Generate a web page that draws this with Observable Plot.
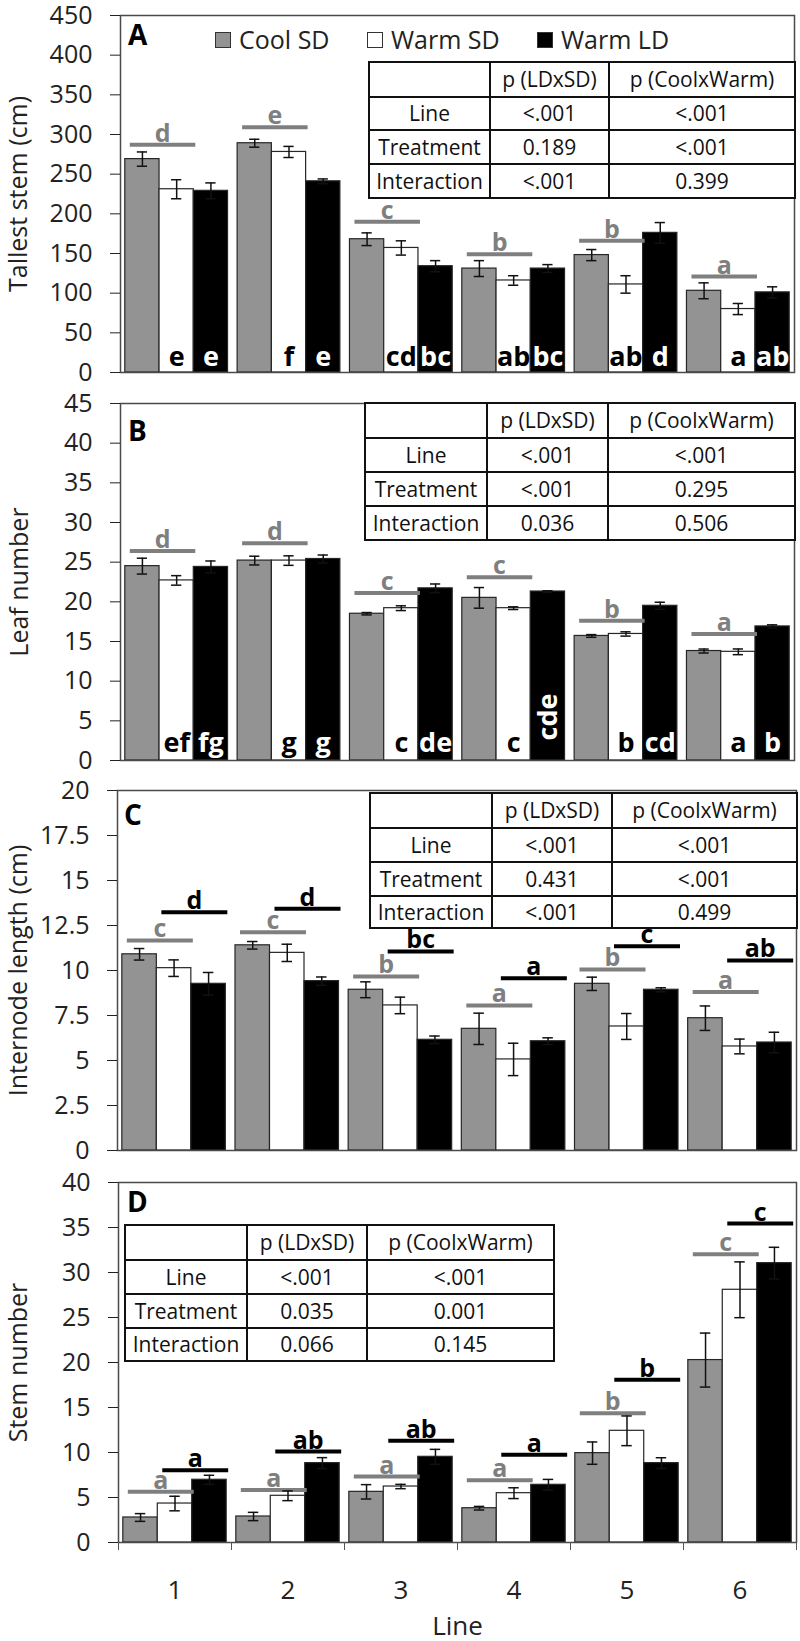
<!DOCTYPE html>
<html>
<head>
<meta charset="utf-8">
<script src="https://cdn.jsdelivr.net/npm/d3@7"></script>
<script src="https://cdn.jsdelivr.net/npm/@observablehq/plot@0.6"></script>
<style>
  html, body { margin: 0; padding: 0; background: #fff; }
  body { width: 800px; font-family: "Open Sans", sans-serif; color: #1a1a1a; }
  .panel { position: relative; width: 800px; }
  .panel svg { display: block; overflow: visible; }
  .plabel { position: absolute; font: bold 28px/1 "Open Sans", sans-serif; color: #000; }
  table.pt { position: absolute; border-collapse: collapse; table-layout: fixed; background: #fff;
             font: 21px/1 "Open Sans", sans-serif; color: #111; }
  table.pt td { border: 2px solid #111; text-align: center; vertical-align: middle; padding: 0;
                white-space: nowrap; overflow: hidden; }
  .litem { position: absolute; display: flex; align-items: center; font: 25px/1 "Open Sans", sans-serif; color: #222; }
  .sw { width: 14px; height: 14px; border: 1.5px solid #333; margin-right: 8px; }
</style>
</head>
<body>
<div id="fig"></div>
<script>
// ---------- shared categories ----------
const lines = ["1", "2", "3", "4", "5", "6"];
const treatments = ["Cool SD", "Warm SD", "Warm LD"];
const treatmentColors = ["#939393", "#ffffff", "#000000"];
const tableHeader = ["", "p (LDxSD)", "p (CoolxWarm)"];

// ---------- A: Tallest stem ----------
const stemTicks = [0, 50, 100, 150, 200, 250, 300, 350, 400, 450];
const stemCool = [269, 289, 168, 131, 148, 103];
const stemCoolErr = [9, 5, 8, 10, 7, 10];
const stemWarmSD = [231, 278, 157, 116, 111, 80];
const stemWarmSDErr = [12, 7, 9, 6, 11, 7];
const stemWarmLD = [229, 241, 134, 131, 176, 101];
const stemWarmLDErr = [10, 3, 7, 5, 13, 7];
const stemGrayLetters = ["d", "e", "c", "b", "b", "a"];
const stemGrayLevels = [287, 309, 190, 149, 166, 121];
const stemWhiteLetters = ["e", "f", "cd", "ab", "ab", "a"];
const stemBlackLetters = ["e", "e", "bc", "bc", "d", "ab"];
const stemTable = [["Line", "<.001", "<.001"], ["Treatment", "0.189", "<.001"], ["Interaction", "<.001", "0.399"]];

// ---------- B: Leaf number ----------
const leafTicks = [0, 5, 10, 15, 20, 25, 30, 35, 40, 45];
const leafCool = [24.5, 25.2, 18.5, 20.5, 15.7, 13.8];
const leafCoolErr = [1.0, 0.55, 0.15, 1.3, 0.17, 0.25];
const leafWarmSD = [22.7, 25.2, 19.2, 19.2, 15.95, 13.7];
const leafWarmSDErr = [0.6, 0.6, 0.3, 0.17, 0.27, 0.36];
const leafWarmLD = [24.4, 25.4, 21.7, 21.3, 19.5, 16.9];
const leafWarmLDErr = [0.75, 0.5, 0.55, 0.1, 0.45, 0.2];
const leafGrayLetters = ["d", "d", "c", "c", "b", "a"];
const leafGrayLevels = [26.4, 27.4, 21.1, 23.1, 17.6, 15.95];
const leafWhiteLetters = ["ef", "g", "c", "c", "b", "a"];
const leafBlackLetters = ["fg", "g", "de", "cde", "cd", "b"];
const leafTable = [["Line", "<.001", "<.001"], ["Treatment", "<.001", "0.295"], ["Interaction", "0.036", "0.506"]];

// ---------- C: Internode length ----------
const interTicks = [0, 2.5, 5, 7.5, 10, 12.5, 15, 17.5, 20];
const interCool = [10.9, 11.4, 8.93, 6.76, 9.26, 7.35];
const interCoolErr = [0.32, 0.21, 0.44, 0.87, 0.37, 0.68];
const interWarmSD = [10.13, 10.98, 8.06, 5.06, 6.89, 5.78];
const interWarmSDErr = [0.46, 0.48, 0.46, 0.9, 0.72, 0.41];
const interWarmLD = [9.26, 9.41, 6.15, 6.07, 8.93, 6.0];
const interWarmLDErr = [0.63, 0.23, 0.21, 0.19, 0.11, 0.57];
const interGrayLetters = ["c", "c", "b", "a", "b", "a"];
const interGrayLevels = [11.67, 12.13, 9.67, 8.06, 10.06, 8.8];
const interBlackLetters = ["d", "d", "bc", "a", "c", "ab"];
const interBlackLevels = [13.24, 13.43, 11.06, 9.57, 11.35, 10.56];
const interTable = [["Line", "<.001", "<.001"], ["Treatment", "0.431", "<.001"], ["Interaction", "<.001", "0.499"]];

// ---------- D: Stem number ----------
const stemNTicks = [0, 5, 10, 15, 20, 25, 30, 35, 40];
const stemNCool = [2.78, 2.89, 5.63, 3.81, 9.93, 20.27];
const stemNCoolErr = [0.43, 0.46, 0.8, 0.2, 1.24, 3.0];
const stemNWarmSD = [4.33, 5.19, 6.22, 5.48, 12.41, 28.08];
const stemNWarmSDErr = [0.81, 0.54, 0.24, 0.6, 1.65, 3.1];
const stemNWarmLD = [6.97, 8.82, 9.52, 6.41, 8.82, 31.04];
const stemNWarmLDErr = [0.5, 0.61, 0.83, 0.6, 0.6, 1.76];
const stemNGrayLetters = ["a", "a", "a", "a", "b", "c"];
const stemNGrayLevels = [5.63, 5.82, 7.33, 6.93, 14.37, 32.04];
const stemNBlackLetters = ["a", "ab", "ab", "a", "b", "c"];
const stemNBlackLevels = [8.04, 10.11, 11.3, 9.74, 18.08, 35.44];
const stemNTable = [["Line", "<.001", "<.001"], ["Treatment", "0.035", "0.001"], ["Interaction", "0.066", "0.145"]];

const GRAY = "#7f7f7f";
const PAD_OUTER = 0.14;
const FONT = '"Open Sans", sans-serif';

function makePlot(cfg) {
  const rows = [];
  lines.forEach((ln, i) => treatments.forEach((t, k) =>
    rows.push({line: ln, treatment: t, value: cfg.means[k][i], err: cfg.errs[k][i]})));
  const plotW = 800 - cfg.mL - cfg.mR;
  const bandW = plotW / lines.length / (treatments.length + 2 * PAD_OUTER);
  const marks = [
    Plot.barY(rows, {fx: "line", x: "treatment", y: "value", fill: "treatment", stroke: "#262626", strokeWidth: 1.2})
  ];
  if (cfg.bottom) {
    const br = [];
    lines.forEach((ln, i) => {
      br.push({line: ln, treatment: "Warm SD", text: cfg.bottom.white[i]});
      br.push({line: ln, treatment: "Warm LD", text: cfg.bottom.black[i]});
    });
    for (const [t, fill] of [["Warm SD", "#000"], ["Warm LD", "#fff"]]) {
      marks.push(Plot.text(br.filter(d => d.treatment === t && d.text.length < 3), {
        fx: "line", x: "treatment", y: () => 0, text: "text", fill,
        lineAnchor: "bottom", dy: cfg.bottom.dy, fontSize: 27, fontWeight: "bold"
      }));
      marks.push(Plot.text(br.filter(d => d.treatment === t && d.text.length >= 3), {
        fx: "line", x: "treatment", y: () => 0, text: "text", fill,
        rotate: -90, textAnchor: "start", lineAnchor: "middle", dy: -20, fontSize: 27, fontWeight: "bold"
      }));
    }
  }
  for (const g of cfg.groups) {
    const gr = lines.map((ln, i) => ({line: ln, level: g.levels[i], letter: g.letters[i]}));
    marks.push(Plot.ruleY(gr, {fx: "line", y: "level", x1: () => g.from, x2: () => g.to,
      stroke: g.color, strokeWidth: 4, insetLeft: 5, insetRight: -2}));
    marks.push(Plot.text(gr, {fx: "line", x: () => g.to, y: "level", text: "letter",
      dx: -bandW / 2 + 3, dy: -3, lineAnchor: "bottom", fill: g.color, fontSize: 25, fontWeight: "bold"}));
  }
  marks.push(
    Plot.ruleX(rows, {fx: "line", x: "treatment", y1: d => d.value - d.err, y2: d => d.value + d.err, stroke: "#111", strokeWidth: 1.5}),
    Plot.tickY(rows, {fx: "line", x: "treatment", y: d => d.value + d.err, stroke: "#111", strokeWidth: 1.5, insetLeft: 12, insetRight: 12}),
    Plot.tickY(rows, {fx: "line", x: "treatment", y: d => d.value - d.err, stroke: "#111", strokeWidth: 1.5, insetLeft: 12, insetRight: 12}),
    Plot.frame({facet: "super", stroke: "#4a4a4a", strokeWidth: 1.5}),
    Plot.axisY({ticks: cfg.ticks, tickFormat: d => String(d), tickSize: 10, tickPadding: 18, fontSize: 25,
      color: "#222", label: cfg.title, labelAnchor: "center", labelOffset: cfg.labelOffset, labelArrow: "none"})
  );
  if (cfg.xAxis) {
    const edge = bandW * (0.5 + PAD_OUTER);
    marks.push(
      Plot.axisFx({anchor: "bottom", tickSize: 0, tickPadding: 38, fontSize: 26, color: "#222",
        label: "Line", labelAnchor: "center", labelOffset: 92, labelArrow: "none"}),
      Plot.axisX({ticks: ["Cool SD"], tickSize: 8, tickFormat: () => "", dx: -edge, label: null, color: "#555"}),
      Plot.axisX({ticks: ["Warm LD"], tickSize: 8, tickFormat: () => "", dx: edge, label: null, color: "#555"})
    );
  }
  return Plot.plot({
    width: 800, height: cfg.height,
    marginTop: cfg.mT, marginBottom: cfg.mB, marginLeft: cfg.mL, marginRight: cfg.mR,
    style: {fontFamily: FONT, background: "white", overflow: "visible"},
    fx: {domain: lines, padding: 0, round: false, label: null, ...(cfg.xAxis ? {} : {axis: null})},
    x: {domain: treatments, paddingInner: 0, paddingOuter: PAD_OUTER, round: false, label: null, ...(cfg.xAxis ? {} : {axis: null})},
    y: {domain: [0, cfg.max]},
    color: {domain: treatments, range: treatmentColors},
    marks
  });
}

function addTable(panel, rows, left, top, colW, rowH) {
  const t = document.createElement("table");
  t.className = "pt";
  t.style.left = left + "px";
  t.style.top = top + "px";
  t.style.width = colW.reduce((a, b) => a + b, 0) + "px";
  const cg = document.createElement("colgroup");
  colW.forEach(w => { const c = document.createElement("col"); c.style.width = w + "px"; cg.appendChild(c); });
  t.appendChild(cg);
  [tableHeader, ...rows].forEach((r, ri) => {
    const tr = t.insertRow();
    tr.style.height = rowH[ri] + "px";
    r.forEach(c => { const td = tr.insertCell(); td.textContent = c; });
  });
  panel.appendChild(t);
}

function addLetter(panel, txt, left, top) {
  const d = document.createElement("div");
  d.className = "plabel";
  d.textContent = txt;
  d.style.left = left + "px";
  d.style.top = top + "px";
  panel.appendChild(d);
}

const fig = document.getElementById("fig");
function newPanel(h) {
  const p = document.createElement("div");
  p.className = "panel";
  p.style.height = h + "px";
  fig.appendChild(p);
  return p;
}

// Panel A
{
  const p = newPanel(387);
  p.appendChild(makePlot({
    height: 387, mT: 15, mB: 15, mL: 120, mR: 6, max: 450, ticks: stemTicks,
    title: "Tallest stem (cm)", labelOffset: 111,
    means: [stemCool, stemWarmSD, stemWarmLD], errs: [stemCoolErr, stemWarmSDErr, stemWarmLDErr],
    groups: [{from: "Cool SD", to: "Warm SD", color: GRAY, levels: stemGrayLevels, letters: stemGrayLetters}],
    bottom: {white: stemWhiteLetters, black: stemBlackLetters, dy: -7}
  }));
  addLetter(p, "A", 128, 20);
  const legendLeft = [215, 367, 537];
  treatments.forEach((t, k) => {
    const it = document.createElement("div");
    it.className = "litem";
    it.style.left = legendLeft[k] + "px";
    it.style.top = "27px";
    const sw = document.createElement("div");
    sw.className = "sw";
    sw.style.background = treatmentColors[k];
    it.appendChild(sw);
    it.appendChild(document.createTextNode(t));
    p.appendChild(it);
  });
  addTable(p, stemTable, 368, 61, [121, 119, 186], [35, 33, 34, 34]);
}
// Panel B
{
  const p = newPanel(388);
  p.appendChild(makePlot({
    height: 388, mT: 16, mB: 15, mL: 120, mR: 6, max: 45, ticks: leafTicks,
    title: "Leaf number", labelOffset: 110,
    means: [leafCool, leafWarmSD, leafWarmLD], errs: [leafCoolErr, leafWarmSDErr, leafWarmLDErr],
    groups: [{from: "Cool SD", to: "Warm SD", color: GRAY, levels: leafGrayLevels, letters: leafGrayLetters}],
    bottom: {white: leafWhiteLetters, black: leafBlackLetters, dy: -9}
  }));
  addLetter(p, "B", 128, 29);
  addTable(p, leafTable, 364, 15, [122, 121, 187], [35, 34, 34, 34]);
}
// Panel C
{
  const p = newPanel(390);
  p.appendChild(makePlot({
    height: 390, mT: 15, mB: 15, mL: 117, mR: 4, max: 20, ticks: interTicks,
    title: "Internode length (cm)", labelOffset: 108,
    means: [interCool, interWarmSD, interWarmLD], errs: [interCoolErr, interWarmSDErr, interWarmLDErr],
    groups: [
      {from: "Cool SD", to: "Warm SD", color: GRAY, levels: interGrayLevels, letters: interGrayLetters},
      {from: "Warm SD", to: "Warm LD", color: "#000", levels: interBlackLevels, letters: interBlackLetters}
    ]
  }));
  addLetter(p, "C", 124, 25);
  addTable(p, interTable, 369, 17, [122, 120, 185], [35, 34, 34, 32]);
}
// Panel D
{
  const p = newPanel(476);
  p.appendChild(makePlot({
    height: 476, mT: 17, mB: 99, mL: 118, mR: 4, max: 40, ticks: stemNTicks,
    title: "Stem number", labelOffset: 109, xAxis: true,
    means: [stemNCool, stemNWarmSD, stemNWarmLD], errs: [stemNCoolErr, stemNWarmSDErr, stemNWarmLDErr],
    groups: [
      {from: "Cool SD", to: "Warm SD", color: GRAY, levels: stemNGrayLevels, letters: stemNGrayLetters},
      {from: "Warm SD", to: "Warm LD", color: "#000", levels: stemNBlackLevels, letters: stemNBlackLetters}
    ]
  }));
  addLetter(p, "D", 127, 22);
  addTable(p, stemNTable, 124, 59, [122, 120, 187], [35, 34, 34, 33]);
}
</script>
</body>
</html>
